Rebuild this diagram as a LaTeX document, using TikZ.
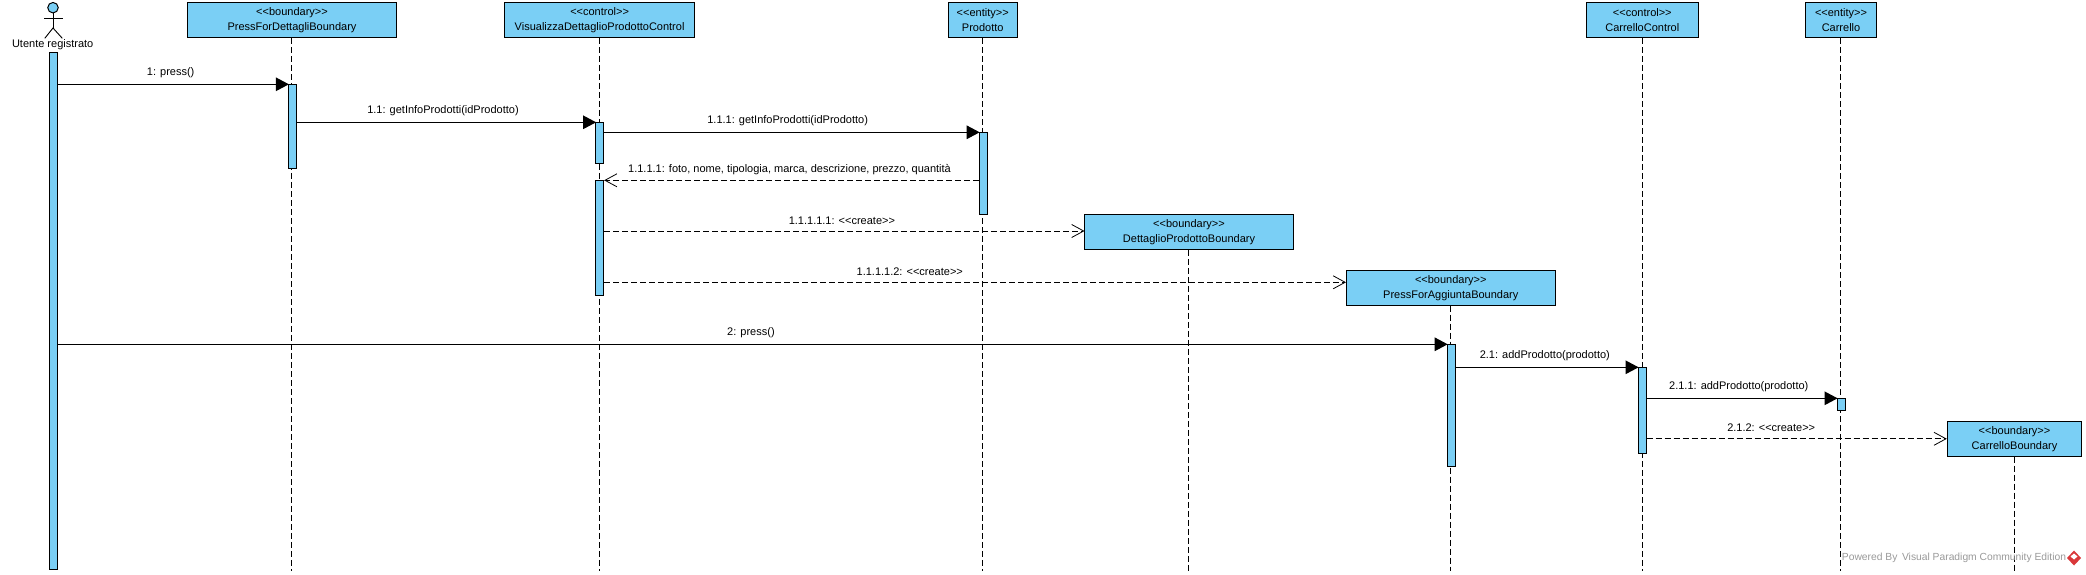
\documentclass[tikz,border=0pt]{standalone}
\usepackage{fontspec}
\setmainfont{Liberation Sans}
\usetikzlibrary{arrows.meta}
\definecolor{vpblue}{HTML}{7ACFF5}
\definecolor{vpred}{HTML}{D9383A}
\newcommand{\stereo}[1]{<\kern0pt<#1>\kern0pt>}

\begin{document}
\begin{tikzpicture}[x=1pt, y=-1pt,
        box/.style ={draw, fill=vpblue, line width=1pt, inner sep=0pt, align=center,
                     minimum height=34.8pt, font=\fontsize{11}{15}\selectfont},
        act/.style ={draw, fill=vpblue, line width=1pt, inner sep=0pt, minimum width=8pt},
        life/.style={line width=1pt, dash pattern=on 6pt off 3pt},
        msg/.style ={-{Triangle[length=13pt,width=13.5pt]}, line width=1.1pt, shorten >=-1pt},
        ret/.style ={-{Straight Barb[length=12pt,width=13pt,line width=0.8pt]}, line width=1pt,
                     dash pattern=on 6pt off 3pt},
        lbl/.style ={font=\fontsize{11}{13}\selectfont, inner sep=0pt},]

    \useasboundingbox (0,0) rectangle (2086,575);

    % actor
    \node[circle, draw, fill=vpblue, line width=1pt, inner sep=0pt, minimum size=10.5pt]
        (head) at (53, 7.7) {};
    \coordinate (hip)  at (53, 28);
    \coordinate (armL) at (44.3, 18.3);
    \coordinate (armR) at (62.7, 18.3);
    \coordinate (legL) at (44.8, 38.3);
    \coordinate (legR) at (62.3, 38.3);
    \draw[line width=0.9pt] (head) -- (hip);
    \draw[line width=0.9pt] (armL) -- (armR);
    \draw[line width=0.9pt] (legL) -- (hip) -- (legR);
    \node[lbl] (utente) at (52.7, 45) {Utente registrato};

    % object boxes
    \node[box, minimum width=209pt] (pressDett) at (292, 19.9)
        {\stereo{boundary}\\PressForDettagliBoundary};
    \node[box, minimum width=190pt] (visControl) at (599.6, 19.9)
        {\stereo{control}\\VisualizzaDettaglioProdottoControl};
    \node[box, minimum width=68.8pt] (prodotto) at (982.7, 19.9)
        {\stereo{entity}\\Prodotto};
    \node[box, minimum width=209pt] (dettBound) at (1189, 232)
        {\stereo{boundary}\\DettaglioProdottoBoundary};
    \node[box, minimum width=209.6pt] (pressAgg) at (1450.8, 287.7)
        {\stereo{boundary}\\PressForAggiuntaBoundary};
    \node[box, minimum width=112pt] (carControl) at (1642.3, 19.9)
        {\stereo{control}\\CarrelloControl};
    \node[box, minimum width=70.6pt] (carrello) at (1841, 19.9)
        {\stereo{entity}\\Carrello};
    \node[box, minimum width=134.4pt] (carBound) at (2014.5, 438.8)
        {\stereo{boundary}\\CarrelloBoundary};

    % lifelines
    \coordinate (endA) at (291.4, 571);
    \coordinate (endB) at (599, 571);
    \coordinate (endC) at (982.2, 571);
    \coordinate (endD) at (1188.4, 571);
    \coordinate (endE) at (1450.2, 571);
    \coordinate (endF) at (1642, 571);
    \coordinate (endG) at (1840.3, 571);
    \coordinate (endH) at (2014.3, 571);
    \draw[life] (endA |- pressDett.south) -- (endA);
    \draw[life] (endB |- visControl.south) -- (endB);
    \draw[life] (endC |- prodotto.south) -- (endC);
    \draw[life] (endD |- dettBound.south) -- (endD);
    \draw[life] (endE |- pressAgg.south) -- (endE);
    \draw[life] (endF |- carControl.south) -- (endF);
    \draw[life] (endG |- carrello.south) -- (endG);
    \draw[life] (endH |- carBound.south) -- (endH);

    % activations
    \node[act, minimum height=517.7pt] (actU) at (53.5, 311.1) {};
    \node[act, minimum height=84pt]    (actA) at (292.4, 126.8) {};
    \node[act, minimum height=41pt]    (actB) at (599.6, 143.3) {};
    \node[act, minimum height=114.4pt] (actC) at (599.6, 238) {};
    \node[act, minimum height=82pt]    (actD) at (983.2, 173.8) {};
    \node[act, minimum height=121.4pt] (actE) at (1451.2, 405.5) {};
    \node[act, minimum height=86pt]    (actF) at (1642.1, 410.8) {};
    \node[act, minimum height=12pt]    (actG) at (1841.1, 404.8) {};

    % free ends of the create messages
    \coordinate (dettIn) at (1084.5, 231);
    \coordinate (aggIn)  at (1346, 282.3);

    % messages
    \draw[msg] (actU.east |- actA.north west) -- (actA.north west)
        node[lbl, pos=0.49, above=6.2pt] {1: press()};
    \draw[msg] (actA.east |- actB.north west) -- (actB.north west)
        node[lbl, pos=0.49, above=6.2pt] {1.1: getInfoProdotti(idProdotto)};
    \draw[msg] (actB.east |- actD.north west) -- (actD.north west)
        node[lbl, pos=0.49, above=6.2pt] {1.1.1: getInfoProdotti(idProdotto)};
    \draw[ret] (actD.west |- actC.north east) -- (actC.north east)
        node[lbl, pos=0.505, above=5.4pt] {1.1.1.1: foto, nome, tipologia, marca, descrizione, prezzo, quantità};
    \draw[ret] (actC.east |- dettIn) -- (dettIn)
        node[lbl, pos=0.495, above=6.2pt] {1.1.1.1.1: \stereo{create}};
    \draw[ret] (actC.east |- aggIn) -- (aggIn)
        node[lbl, pos=0.412, above=6.2pt] {1.1.1.1.2: \stereo{create}};
    \draw[msg] (actU.east |- actE.north west) -- (actE.north west)
        node[lbl, pos=0.499, above=6.2pt] {2: press()};
    \draw[msg] (actE.east |- actF.north west) -- (actF.north west)
        node[lbl, pos=0.49, above=6.2pt] {2.1: addProdotto(prodotto)};
    \draw[msg] (actF.east |- actG.north west) -- (actG.north west)
        node[lbl, pos=0.485, above=6.2pt] {2.1.1: addProdotto(prodotto)};
    \draw[ret] (actF.east |- carBound.west) -- (carBound.west)
        node[lbl, pos=0.415, above=6.2pt] {2.1.2: \stereo{create}};

    % watermark
    \node[lbl, font=\fontsize{10.3}{12}\selectfont, text=black!40, anchor=west] (powered)
        at (1841.7, 558.3) {Powered By \,Visual Paradigm Community Edition};
    \fill[vpred] (2074, 550.5) -- (2081, 558) -- (2074, 565.5) -- (2067, 558) -- cycle;
    \fill[white] (2074, 553.5) -- (2077.5, 556.5) -- (2074, 559.5) -- (2070.5, 556.5) -- cycle;
    \end{tikzpicture}
\end{document}
